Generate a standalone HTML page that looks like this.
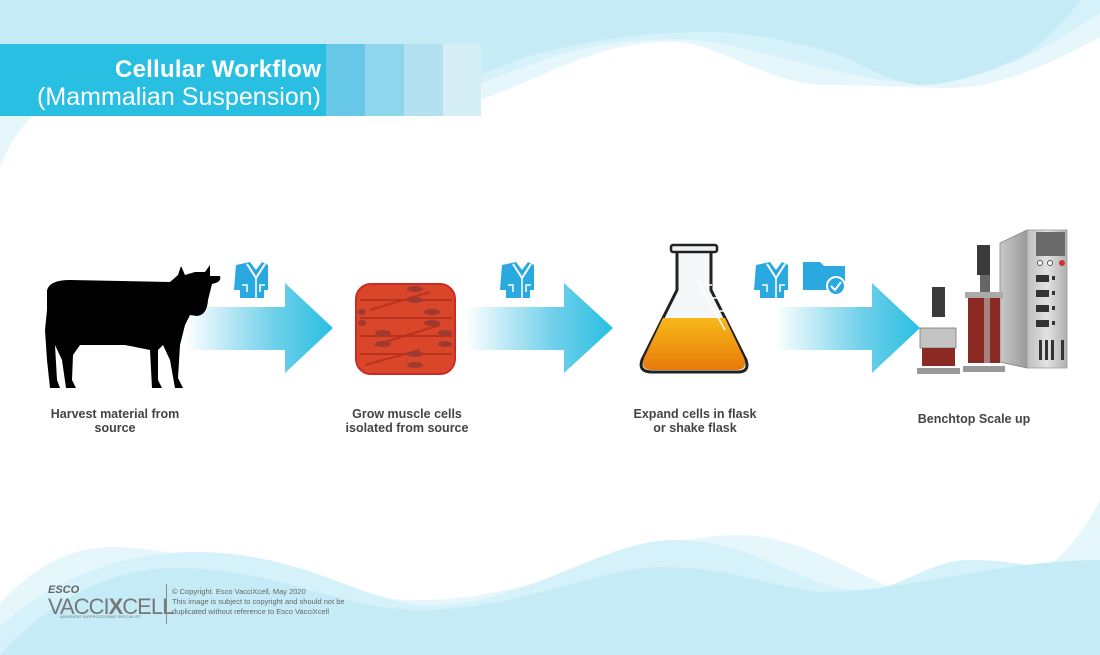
<!DOCTYPE html>
<html><head><meta charset="utf-8"><style>
html,body{margin:0;padding:0;background:#fff}
body{width:1100px;height:655px;overflow:hidden;position:relative;font-family:"Liberation Sans",sans-serif}
.lbl{position:absolute;font-size:12.5px;font-weight:bold;color:#444;text-align:center;line-height:14px;width:200px}
</style></head><body>
<svg width="1100" height="655" style="position:absolute;left:0;top:0">
<defs>
<linearGradient id="ag" x1="0" x2="1"><stop offset="0" stop-color="#fff"/><stop offset="0.6" stop-color="#6fd0ea"/><stop offset="1" stop-color="#29bfe2"/></linearGradient>
<linearGradient id="fl" x1="0" y1="0" x2="0" y2="1"><stop offset="0" stop-color="#f7b81a"/><stop offset="1" stop-color="#e87a0a"/></linearGradient>
<linearGradient id="cab" x1="0" x2="1"><stop offset="0" stop-color="#bdbdbd"/><stop offset="0.5" stop-color="#e2e2e2"/><stop offset="1" stop-color="#b0b0b0"/></linearGradient>
<linearGradient id="side" x1="0" x2="1"><stop offset="0" stop-color="#c8c8c8"/><stop offset="1" stop-color="#9a9a9a"/></linearGradient>
</defs>
<!-- top waves -->
<path d="M0,0 H1100 V37 C1040,70 990,90 940,88 C880,86 850,85 820,85 C760,80 720,45 680,42 C600,38 540,80 480,100 L0,100 Z" fill="#e6f7fc"/>
<path d="M0,0 H1100 V13 C1030,60 980,80 927,83 C860,86 760,45 691,40 C600,35 540,60 480,84 L0,84 Z" fill="#d5f1f9"/>
<path d="M0,0 H1081 C1050,40 1020,60 1010,62 C970,80 940,85 919,85 C880,80 860,60 823,50 C780,38 730,30 691,32 C620,34 570,45 533,55 C510,62 490,72 470,78 L0,78 Z" fill="#c5ecf6"/>
<path d="M0,116 H32 Q10,140 0,167 Z" fill="#e6f7fc"/>
<!-- bottom waves -->
<path d="M0,603 C40,560 80,545 119,547 C220,552 320,600 421,600 C540,600 640,535 737,535 C820,535 880,600 947,600 C1020,600 1070,560 1100,500 V655 H0 Z" fill="#e6f7fc"/>
<path d="M0,627 C50,580 120,552 196,552 C300,552 360,600 421,605 C520,610 600,540 674,540 C760,540 800,590 863,590 C900,590 930,560 968,560 C1030,560 1070,575 1100,587 V655 H0 Z" fill="#d5f1f9"/>
<path d="M0,655 C50,600 110,568 175,568 C280,568 340,610 421,610 C520,610 600,567 660,567 C740,567 780,592 828,592 C900,592 1000,560 1100,560 V655 H0 Z" fill="#c5ecf6"/>
<!-- title bar -->
<rect x="0" y="44" width="326" height="72" fill="#29bfe2"/>
<rect x="326" y="44" width="39" height="72" fill="#66c8e6"/>
<rect x="365" y="44" width="39" height="72" fill="#8fd6ec"/>
<rect x="404" y="44" width="39" height="72" fill="#b3e1f0"/>
<rect x="443" y="44" width="38" height="72" fill="#d6eef6"/>
<text x="321" y="77" text-anchor="end" font-family="Liberation Sans" font-weight="bold" font-size="24" fill="#fff" textLength="206">Cellular Workflow</text>
<text x="321" y="105" text-anchor="end" font-family="Liberation Sans" font-size="25" fill="#fff" textLength="284">(Mammalian Suspension)</text>
<!-- arrows -->
<path d="M185,307 H285 V283 L333,328 L285,373 V350 H185 Z" fill="url(#ag)"/>
<path d="M465,307 H564 V283 L613,328 L564,373 V350 H465 Z" fill="url(#ag)"/>
<path d="M775,307 H872 V283 L920,328 L872,373 V350 H775 Z" fill="url(#ag)"/>
<!-- coat icons -->
<g id="coat" fill="#2aa8e0">
<path d="M236,265 L250,262 L256,270 L262,262 L268,265 L268,290 L264,290 L264,298 H240 V290 H234 Z"/>
<path d="M247,264 L256,278 L265,264" stroke="#fff" stroke-width="2" fill="none"/>
<path d="M256,278 V298 M242,285 H247 V292 M265,285 H260 V292" stroke="#fff" stroke-width="1.5" fill="none"/>
</g>
<use href="#coat" x="266" y="0"/>
<use href="#coat" x="520" y="0"/>
<path d="M803,262 H820 L824,266 H845 V290 H803 Z" fill="#2aa8e0"/>
<circle cx="836" cy="286" r="9" fill="#2aa8e0" stroke="#fff" stroke-width="2"/>
<path d="M831,286 L835,290 L841,282" stroke="#fff" stroke-width="2" fill="none"/>
<!-- cow -->
<path d="M47,290 Q50,280 70,280 L170,282 L178,275 L181,266 L185,275 L195,272 L205,272 L210,265 L210,276 L220,276 Q222,282 212,284 L208,300 Q207,315 197,316 L190,315 L185,325 L180,345 L178,378 L183,388 L175,388 L170,360 L163,345 L158,350 L158,380 L162,388 L152,388 L150,350 L125,345 L80,345 L73,355 L72,380 L76,388 L66,388 L62,360 L55,345 L57,380 L60,388 L50,388 L47,360 L45,330 L47,310 Z" fill="#000"/>
<!-- muscle -->
<rect x="356" y="284" width="99" height="90" rx="15" fill="#d9462a" stroke="#cc2a26" stroke-width="2"/>
<g stroke="#b8321e" stroke-width="2" fill="none">
<path d="M360,300 H452 M360,318 H452 M360,336 H452 M360,354 H452 M370,310 L430,292 M375,345 L440,325 M365,365 L420,350"/>
</g>
<g fill="#9e3a30">
<ellipse cx="415" cy="289" rx="8" ry="3"/><ellipse cx="415" cy="300" rx="8" ry="3"/><ellipse cx="432" cy="312" rx="8" ry="3"/><ellipse cx="432" cy="323" rx="8" ry="3"/><ellipse cx="383" cy="333" rx="8" ry="3"/><ellipse cx="383" cy="344" rx="8" ry="3"/><ellipse cx="445" cy="333" rx="7" ry="3"/><ellipse cx="445" cy="344" rx="7" ry="3"/><ellipse cx="415" cy="354" rx="8" ry="3"/><ellipse cx="415" cy="365" rx="8" ry="3"/><ellipse cx="362" cy="312" rx="4" ry="3"/><ellipse cx="362" cy="323" rx="4" ry="3"/>
</g>
<!-- flask -->
<path d="M677,250 V290 L642,360 Q638,372 652,372 H738 Q750,372 746,360 L711,290 V250 Z" fill="#f4f6f8" stroke="#222" stroke-width="3"/>
<rect x="671" y="245" width="46" height="7" rx="2" fill="#eef0f2" stroke="#222" stroke-width="2.5"/>
<path d="M663,318 L725,318 L744,358 Q748,370 736,370 H652 Q640,370 644,358 Z" fill="url(#fl)"/>
<path d="M697,280 L725,330 M705,285 H712 M711,298 H718 M717,311 H724" stroke="#fff" stroke-width="1.5" fill="none"/>
<!-- bioreactor -->
<path d="M1000,243 L1027,230 V368 L1000,362 Z" fill="url(#side)" stroke="#888" stroke-width="0.8"/>
<rect x="1027" y="230" width="40" height="138" fill="url(#cab)" stroke="#999" stroke-width="0.8"/>
<rect x="1036" y="232" width="29" height="24" fill="#6a6a6a"/>
<circle cx="1040" cy="263" r="2.5" fill="#fff" stroke="#555"/><circle cx="1050" cy="263" r="2.5" fill="#fff" stroke="#555"/><circle cx="1062" cy="263" r="3" fill="#c33"/>
<g fill="#333"><rect x="1036" y="275" width="13" height="7"/><rect x="1036" y="290" width="13" height="7"/><rect x="1036" y="305" width="13" height="7"/><rect x="1036" y="320" width="13" height="7"/>
<rect x="1052" y="276" width="3" height="4"/><rect x="1052" y="291" width="3" height="4"/><rect x="1052" y="306" width="3" height="4"/><rect x="1052" y="321" width="3" height="4"/>
<rect x="1039" y="340" width="3" height="20"/><rect x="1045" y="340" width="3" height="20"/><rect x="1051" y="340" width="3" height="20"/><rect x="1061" y="340" width="3" height="20"/></g>
<rect x="977" y="245" width="13" height="30" fill="#3a3a3a"/>
<rect x="980" y="275" width="10" height="20" fill="#666"/>
<rect x="965" y="292" width="38" height="6" fill="#aaa"/>
<rect x="968" y="298" width="32" height="65" fill="#8a2a22"/>
<rect x="984" y="298" width="6" height="65" fill="#b0a8a5" opacity="0.7"/>
<rect x="963" y="366" width="42" height="6" fill="#999"/>
<rect x="932" y="287" width="13" height="30" fill="#3a3a3a"/>
<rect x="920" y="328" width="36" height="20" fill="#c4c4c4" stroke="#777" stroke-width="0.8"/>
<rect x="922" y="348" width="33" height="18" fill="#8a2a22"/>
<rect x="917" y="368" width="43" height="6" fill="#999"/>
</svg>
<div class="lbl" style="left:15px;top:407px">Harvest material from<br>source</div>
<div class="lbl" style="left:307px;top:407px">Grow muscle cells<br>isolated from source</div>
<div class="lbl" style="left:595px;top:407px">Expand cells in flask<br>or shake flask</div>
<div class="lbl" style="left:874px;top:412px">Benchtop Scale up</div>
<div style="position:absolute;left:48px;top:584px;font-size:11px;font-style:italic;font-weight:bold;color:#666">ESCO</div>
<div style="position:absolute;left:48px;top:594px;font-size:22px;color:#777;letter-spacing:-1px">VACCI<span style="font-weight:bold">X</span>CELL</div>
<div style="position:absolute;left:60px;top:614px;font-size:4px;color:#777">ADHERENT BIOPROCESSING SPECIALIST</div>
<div style="position:absolute;left:166px;top:584px;width:1px;height:40px;background:#888"></div>
<div style="position:absolute;left:172px;top:587px;font-size:7.5px;line-height:10px;color:#666">© Copyright. Esco VacciXcell, May 2020<br>This image is subject to copyright and should not be<br>duplicated without reference to Esco VacciXcell</div>
</body></html>
